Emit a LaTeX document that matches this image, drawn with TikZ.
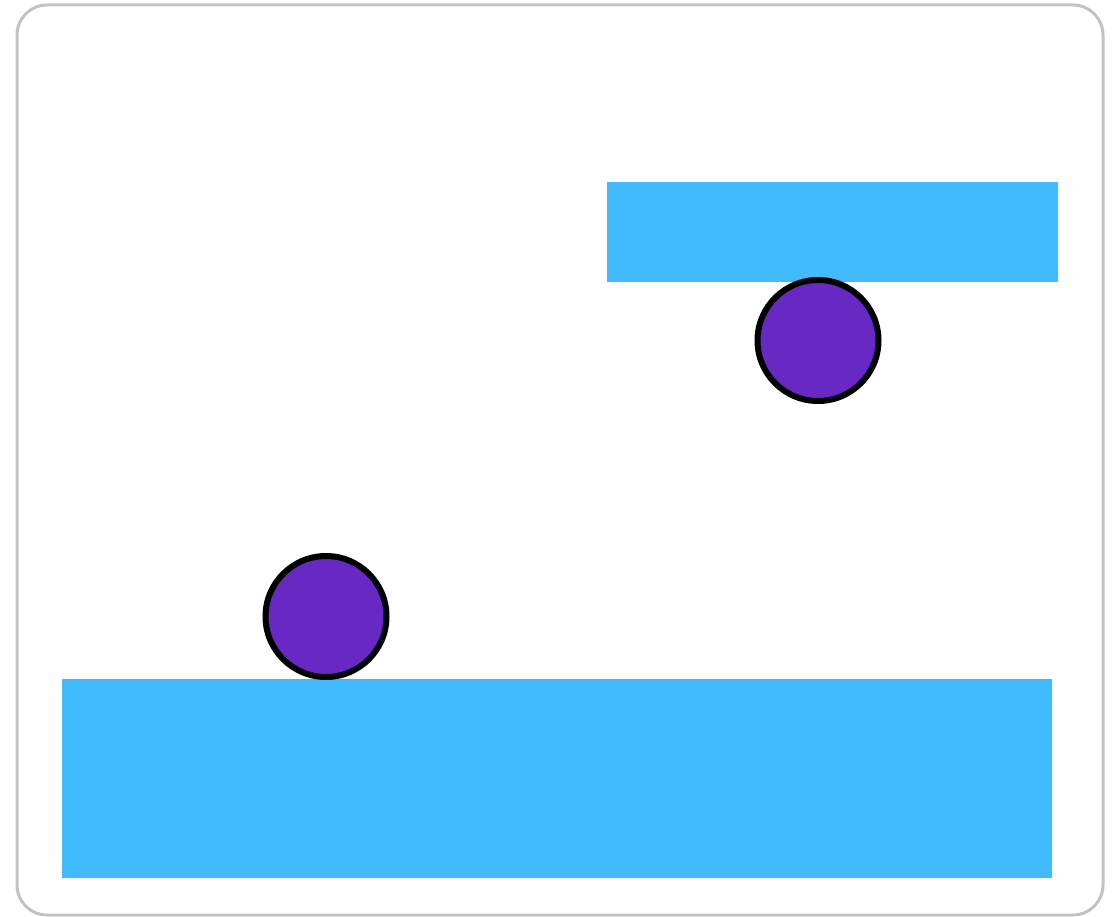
\documentclass[tikz,border=0pt]{standalone}
\definecolor{frame}{HTML}{C2C2C2}
\definecolor{slab}{HTML}{42BAFE}
\definecolor{ball}{HTML}{6828C4}
\begin{document}
\begin{tikzpicture}[x=1pt,y=-1pt,
  framebox/.style={draw=frame,line width=3pt,rounded corners=30pt,fill=white},
  slabbox/.style={fill=slab,draw=none},
  ballshape/.style={fill=ball,draw=black,line width=6pt}]
\useasboundingbox (0,0) rectangle (1119,917);
\draw[framebox] (17,5) rectangle (1103,915);
\path[slabbox] (607,182) rectangle (1058,282);
\path[slabbox] (62,679) rectangle (1052,878);
\draw[ballshape] (818,340.5) circle[radius=60.5pt];
\draw[ballshape] (326,616.5) circle[radius=60.5pt];
\end{tikzpicture}
\end{document}
